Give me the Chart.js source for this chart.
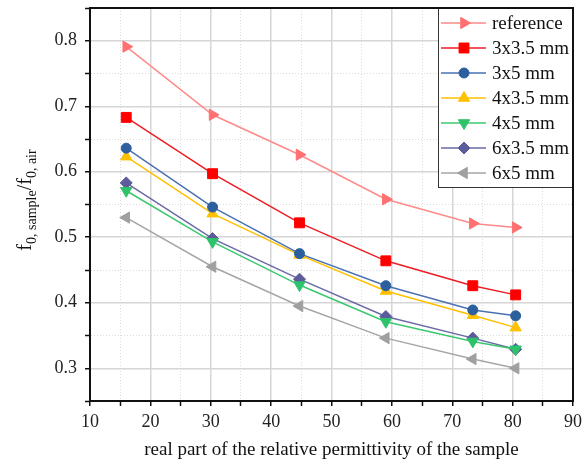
<!DOCTYPE html>
<html>
<head>
<meta charset="utf-8">
<script src="https://cdn.jsdelivr.net/npm/chart.js@4"></script>
<style>
  body { margin: 0; background: #fff; }
  #wrap { width: 587px; height: 468px; }
</style>
</head>
<body>
<div id="wrap"><canvas id="chart"></canvas></div>
<script>
const permittivity = [16, 30.3, 44.7, 59, 73.4, 80.5];
const seriesNames = ['reference', '3x3.5 mm', '3x5 mm', '4x3.5 mm', '4x5 mm', '6x3.5 mm', '6x5 mm'];
const refVals   = [0.791, 0.687, 0.626, 0.558, 0.521, 0.515];
const r3x35Vals = [0.683, 0.597, 0.522, 0.464, 0.426, 0.412];
const r3x5Vals  = [0.636, 0.546, 0.475, 0.426, 0.389, 0.380];
const r4x35Vals = [0.623, 0.536, 0.473, 0.418, 0.381, 0.362];
const r4x5Vals  = [0.571, 0.493, 0.427, 0.371, 0.341, 0.329];
const r6x35Vals = [0.583, 0.498, 0.436, 0.379, 0.346, 0.329];
const r6x5Vals  = [0.530, 0.455, 0.395, 0.346, 0.314, 0.300];
const xTickLabels = [10, 20, 30, 40, 50, 60, 70, 80, 90];

const allVals = [refVals, r3x35Vals, r3x5Vals, r4x35Vals, r4x5Vals, r6x35Vals, r6x5Vals];
const lineColors   = ['#ff8a8a', '#ee1c24', '#4a72b0', '#ffc000', '#3cc870', '#6a6aa6', '#a6a6a6'];
const markerColors = ['#ff7070', '#ff0000', '#2c5f9e', '#ffc000', '#2dc36a', '#5c5c9c', '#a0a0a0'];
const pointStyles  = ['triangle', 'rect', 'circle', 'triangle', 'triangle', 'rectRot', 'triangle'];
const rotations    = [90, 0, 0, 0, 180, 0, 270];
const radii        = [6.5, 7, 5, 6.5, 6.5, 6, 6.5];

const serif = "'Liberation Serif', 'Times New Roman', serif";

function isMajor(v, step) {
    let r = v / step;
    return Math.abs(r - Math.round(r)) < 1e-6;
}

let datasets = [];
for (let i = 0; i < seriesNames.length; ++i) {
    datasets.push({
        label: seriesNames[i],
        data: permittivity.map((x, j) => ({x: x, y: allVals[i][j]})),
        borderColor: lineColors[i],
        backgroundColor: markerColors[i],
        pointBorderColor: markerColors[i],
        pointBackgroundColor: markerColors[i],
        pointStyle: pointStyles[i],
        pointRotation: rotations[i],
        pointRadius: radii[i],
        pointBorderWidth: 1,
        borderWidth: 1.5,
        tension: 0
    });
}

// legend box with line + marker, plus axis titles and frame
const decorations = {
    id: 'decorations',
    afterDatasetsDraw(chart) {
        const ctx = chart.ctx;
        const area = chart.chartArea;
        const left = 438, top = area.top, right = area.right, bottom = 187;
        ctx.save();
        ctx.fillStyle = '#fff';
        ctx.fillRect(left, top, right - left, bottom - top);
        ctx.strokeStyle = '#333';
        ctx.lineWidth = 1;
        ctx.strokeRect(left + 0.5, top + 0.5, right - left, bottom - top);

        ctx.font = '19px ' + serif;
        ctx.textBaseline = 'middle';
        ctx.textAlign = 'left';
        chart.data.datasets.forEach((ds, i) => {
            let y = 23 + i * 25;
            ctx.strokeStyle = ds.borderColor;
            ctx.lineWidth = 1.5;
            ctx.beginPath();
            ctx.moveTo(441, y);
            ctx.lineTo(486, y);
            ctx.stroke();
            ctx.fillStyle = ds.pointBackgroundColor;
            ctx.strokeStyle = ds.pointBorderColor;
            ctx.lineWidth = 1;
            Chart.helpers.drawPoint(ctx, {
                pointStyle: ds.pointStyle,
                rotation: ds.pointRotation,
                radius: ds.pointRadius,
                borderWidth: 1
            }, 464, y);
            ctx.fillStyle = '#111';
            ctx.fillText(ds.label, 492, y + 1);
        });
        ctx.restore();
    },
    afterDraw(chart) {
        const ctx = chart.ctx;
        const area = chart.chartArea;
        ctx.save();
        ctx.strokeStyle = '#111';
        ctx.lineWidth = 2;
        ctx.strokeRect(area.left, area.top, area.right - area.left, area.bottom - area.top);

        // x axis title
        ctx.fillStyle = '#111';
        ctx.font = '19px ' + serif;
        ctx.textAlign = 'center';
        ctx.textBaseline = 'middle';
        ctx.fillText('real part of the relative permittivity of the sample', (area.left + area.right) / 2, 450);

        // y axis title with subscripts
        const parts = [
            ['f', 20, 0], ['0, sample', 14, 5],
            ['/f', 20, 0], ['0, air', 14, 5]
        ];
        let total = 0;
        parts.forEach(p => {
            ctx.font = p[1] + 'px ' + serif;
            total += ctx.measureText(p[0]).width;
        });
        ctx.translate(31, 200);
        ctx.rotate(-Math.PI / 2);
        ctx.textAlign = 'left';
        ctx.textBaseline = 'alphabetic';
        let x = -total / 2;
        parts.forEach(p => {
            ctx.font = p[1] + 'px ' + serif;
            ctx.fillText(p[0], x, p[2]);
            x += ctx.measureText(p[0]).width;
        });
        ctx.restore();
    }
};

function gridColor(step) {
    return (c) => (c.tick && isMajor(c.tick.value, step)) ? '#d6d6d6' : '#dcdcdc';
}
function gridDash(step) {
    return (c) => (c.tick && !isMajor(c.tick.value, step)) ? [1, 2] : [];
}

const config = {
    type: 'line',
    data: { datasets: datasets },
    options: {
        responsive: true,
        maintainAspectRatio: false,
        animation: false,
        layout: { padding: { top: 7, right: 14, left: 0, bottom: 0 } },
        plugins: {
            legend: { display: false },
            tooltip: { enabled: false }
        },
        scales: {
            x: {
                type: 'linear',
                min: 10,
                max: 90,
                afterFit: (scale) => {
                    scale.height = 67;
                    scale.paddingLeft = 0;
                    scale.paddingRight = 0;
                },
                ticks: {
                    stepSize: 5,
                    autoSkip: false,
                    maxRotation: 0,
                    padding: 5,
                    color: '#222',
                    font: { family: serif, size: 18 },
                    callback: (v) => xTickLabels.includes(v) ? String(v) : ''
                },
                grid: {
                    color: gridColor(10),
                    lineWidth: (c) => (c.tick && isMajor(c.tick.value, 10)) ? 1.5 : 1,
                    tickColor: '#111',
                    tickLength: 5,
                    tickWidth: 1.5
                },
                border: { color: '#111', width: 2, dash: gridDash(10) }
            },
            y: {
                type: 'linear',
                min: 0.25,
                max: 0.85,
                afterFit: (scale) => {
                    scale.width = 90;
                    scale.paddingTop = 0;
                    scale.paddingBottom = 0;
                },
                ticks: {
                    stepSize: 0.05,
                    autoSkip: false,
                    padding: 8,
                    color: '#222',
                    font: { family: serif, size: 18 },
                    callback: (v) => isMajor(v, 0.1) ? v.toFixed(1) : ''
                },
                grid: {
                    color: gridColor(0.1),
                    lineWidth: (c) => (c.tick && isMajor(c.tick.value, 0.1)) ? 1.5 : 1,
                    tickColor: '#111',
                    tickLength: 5,
                    tickWidth: 1.5
                },
                border: { color: '#111', width: 2, dash: gridDash(0.1) }
            }
        }
    },
    plugins: [decorations]
};

new Chart('chart', config);
</script>
</body>
</html>
